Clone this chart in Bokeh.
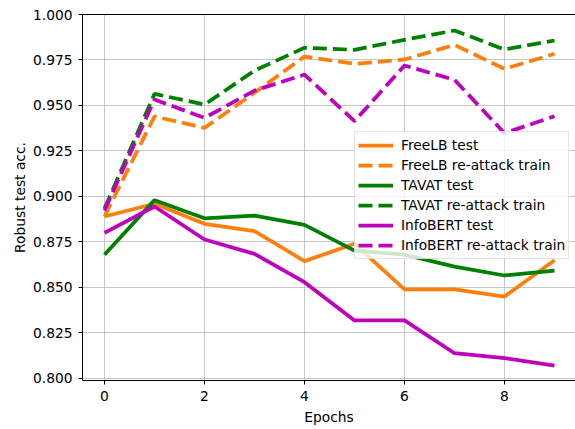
from bokeh.plotting import figure
from bokeh.models import Range1d, FixedTicker, LinearAxis, PrintfTickFormatter, Legend, LegendItem
from bokeh.embed import file_html
from bokeh.resources import INLINE

epochs = [0, 1, 2, 3, 4, 5, 6, 7, 8, 9]
freelb_test = [0.889, 0.896, 0.885, 0.881, 0.8645, 0.874, 0.849, 0.849, 0.845, 0.865]
freelb_reattack = [0.889, 0.944, 0.9377, 0.957, 0.9769, 0.9729, 0.9753, 0.9833, 0.9701, 0.9784]
tavat_test = [0.868, 0.898, 0.888, 0.8895, 0.8844, 0.8703, 0.868, 0.8615, 0.8566, 0.8593]
tavat_reattack = [0.8934, 0.9564, 0.9505, 0.9692, 0.9817, 0.9806, 0.9861, 0.9912, 0.9808, 0.9857]
infobert_test = [0.880, 0.8945, 0.8764, 0.8685, 0.8529, 0.8319, 0.8319, 0.8139, 0.8112, 0.8071]
infobert_reattack = [0.8923, 0.9533, 0.9432, 0.9582, 0.967, 0.9414, 0.972, 0.9641, 0.9348, 0.9441]

x_ticks = [0, 2, 4, 6, 8]
y_ticks = [0.800, 0.825, 0.850, 0.875, 0.900, 0.925, 0.950, 0.975, 1.000]

FONT = "DejaVu Sans"
FS = "13.8px"

p = figure(width=575, height=429, output_backend="svg", toolbar_location=None,
           x_range=Range1d(-0.44, 9.42), y_range=Range1d(0.7989, 1.0),
           min_border_left=82, min_border_right=0, min_border_top=14, min_border_bottom=49)
p.outline_line_color = None
p.background_fill_color = "white"
p.border_fill_color = "white"

for ax in (p.xaxis[0], p.yaxis[0]):
    ax.axis_line_color = "black"
    ax.axis_line_width = 1
    ax.major_tick_line_color = "black"
    ax.major_tick_out = 4
    ax.major_tick_in = 0
    ax.minor_tick_line_color = None
    ax.major_label_text_font = FONT
    ax.major_label_text_font_size = FS
    ax.major_label_text_color = "black"
    ax.axis_label_text_font = FONT
    ax.axis_label_text_font_size = FS
    ax.axis_label_text_font_style = "normal"
    ax.axis_label_text_color = "black"

p.xaxis.ticker = FixedTicker(ticks=x_ticks)
p.yaxis.ticker = FixedTicker(ticks=y_ticks)
p.yaxis.formatter = PrintfTickFormatter(format="%.3f")
p.xaxis.axis_label = "Epochs"
p.yaxis.axis_label = "Robust test acc."
p.xaxis.axis_label_standoff = 5
p.yaxis.axis_label_standoff = 2
p.xaxis.major_label_standoff = 6
p.yaxis.major_label_standoff = 6

top = LinearAxis(major_tick_line_color=None, minor_tick_line_color=None,
                 major_label_text_font_size="0px", axis_line_color="black",
                 major_label_standoff=0, ticker=FixedTicker(ticks=[]))
p.add_layout(top, "above")

p.xgrid.ticker = FixedTicker(ticks=x_ticks)
p.ygrid.ticker = FixedTicker(ticks=y_ticks)
p.grid.grid_line_color = "#b0b0b0"
p.grid.grid_line_alpha = 0.7
p.grid.grid_line_width = 1

LW = 3.75
DASH = "14 6"
orange = "#ff7f0e"
green = "#008000"
mag = "#bf00bf"

r1 = p.line(epochs, freelb_test, color=orange, line_width=LW)
r2 = p.line(epochs, freelb_reattack, color=orange, line_width=LW, line_dash=DASH)
r3 = p.line(epochs, tavat_test, color=green, line_width=LW)
r4 = p.line(epochs, tavat_reattack, color=green, line_width=LW, line_dash=DASH)
r5 = p.line(epochs, infobert_test, color=mag, line_width=LW)
r6 = p.line(epochs, infobert_reattack, color=mag, line_width=LW, line_dash=DASH)

legend = Legend(items=[
    LegendItem(label="FreeLB test", renderers=[r1]),
    LegendItem(label="FreeLB re-attack train", renderers=[r2]),
    LegendItem(label="TAVAT test", renderers=[r3]),
    LegendItem(label="TAVAT re-attack train", renderers=[r4]),
    LegendItem(label="InfoBERT test", renderers=[r5]),
    LegendItem(label="InfoBERT re-attack train", renderers=[r6]),
], location=(272, 121))
legend.label_text_font = FONT
legend.label_text_font_size = FS
legend.label_text_color = "black"
legend.glyph_width = 35
legend.glyph_height = 20
legend.label_height = 20
legend.spacing = 0
legend.padding = 3
legend.margin = 0
legend.label_standoff = 8
legend.border_line_color = "#cccccc"
legend.border_line_width = 1
legend.background_fill_color = "white"
legend.background_fill_alpha = 0.8
p.add_layout(legend, "center")

open("out.html", "w").write(file_html(p, INLINE))
